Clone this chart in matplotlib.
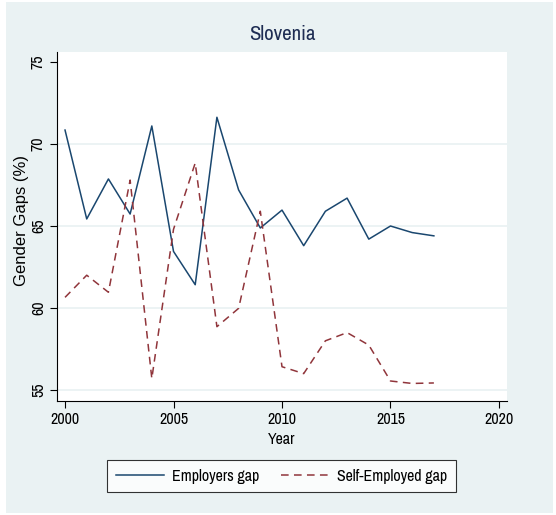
import matplotlib
matplotlib.use("Agg")
import matplotlib.pyplot as plt
from matplotlib.patches import Rectangle
from matplotlib.lines import Line2D

years = list(range(2000, 2018))
employers_gap = [70.85, 65.43, 67.87, 65.73, 71.1, 63.45, 61.42, 71.63, 67.2, 64.88,
                 65.97, 63.8, 65.9, 66.7, 64.2, 65.0, 64.6, 64.4]
self_employed_gap = [60.65, 62.0, 60.96, 67.8, 55.7, 64.8, 68.84, 58.86, 59.98, 65.9,
                     56.42, 56.0, 58.0, 58.5, 57.74, 55.55, 55.4, 55.43]
x_ticks = [2000, 2005, 2010, 2015, 2020]
y_ticks = [55, 60, 65, 70, 75]

plt.rcParams['font.family'] = ['Archivo Narrow', 'Liberation Sans', 'DejaVu Sans']

W, H = 556, 515
fig = plt.figure(figsize=(W / 100, H / 100), dpi=100)
fig.patch.set_facecolor('white')
bg = '#EAF2F3'
fig.add_artist(Rectangle((6 / W, 1 - 513 / H), (553 - 6) / W, (513 - 2) / H,
                         transform=fig.transFigure, facecolor=bg, edgecolor='none', zorder=0))

left, right, top, bottom = 57, 507, 52, 401
ax = fig.add_axes([left / W, 1 - bottom / H, (right - left) / W, (bottom - top) / H])
ax.set_facecolor('white')
navy = '#1A476F'
maroon = '#90353B'

for y in [55, 60, 65, 70]:
    ax.axhline(y, color=bg, lw=1.3, zorder=1)

ax.plot(years, employers_gap, color=navy, lw=1.1, zorder=3)
ax.plot(years, self_employed_gap, color=maroon, lw=1.1, dashes=(5, 3.5), zorder=3)

fs = 11.5
ax.set_xlim(1999.63, 2020.37)
ax.set_ylim(54.33, 75.61)
ax.set_xticks(x_ticks)
ax.set_yticks(y_ticks)
ax.set_xticklabels([str(t) for t in x_ticks], fontsize=fs)
ax.set_yticklabels([str(t) for t in y_ticks], fontsize=fs, rotation=90, va='center')
ax.tick_params(axis='both', direction='out', length=5, width=0.8, color='black')
ax.tick_params(axis='y', pad=3)
ax.tick_params(axis='x', pad=3)
for s in ['top', 'right']:
    ax.spines[s].set_visible(False)
for s in ['left', 'bottom']:
    ax.spines[s].set_linewidth(0.8)

fig.text(282 / W, 1 - 35 / H, 'Slovenia', fontsize=15, color='#1E2D53', ha='center', va='center')
fig.text(282 / W, 1 - 440 / H, 'Year', fontsize=fs, ha='center', va='center')
fig.text(22 / W, 1 - 221 / H, 'Gender Gaps (%)', fontsize=12, rotation=90, ha='center', va='center',
         family=['Liberation Sans', 'DejaVu Sans'])

handles = [Line2D([], [], color=navy, lw=1.1),
           Line2D([], [], color=maroon, lw=1.1, dashes=(5, 3.5))]
leg = fig.legend(handles, ['Employers gap', 'Self-Employed gap'], ncol=2,
                 loc='center', bbox_to_anchor=(281.5 / W, 1 - 476 / H),
                 fontsize=fs, frameon=True, fancybox=False, edgecolor='black',
                 handlelength=3.0, columnspacing=1.4, borderpad=0.55, handletextpad=0.5,
                 borderaxespad=0)
leg.get_frame().set_linewidth(0.8)
leg.get_frame().set_facecolor('white')

fig.savefig('out.png', dpi=100, facecolor=fig.get_facecolor())
